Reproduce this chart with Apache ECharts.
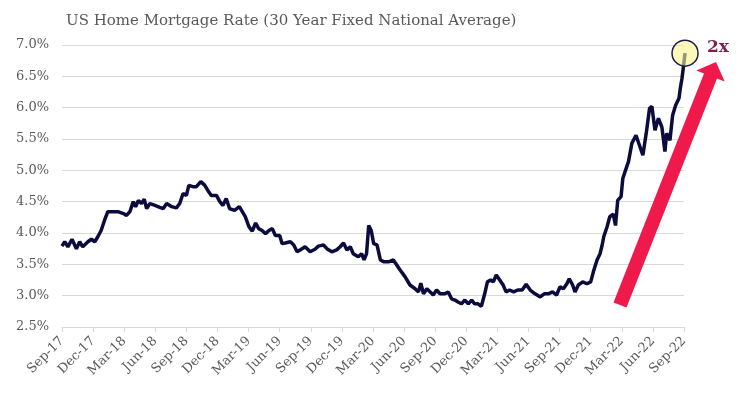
<!DOCTYPE html>
<html>
<head>
<meta charset="utf-8">
<title>US Home Mortgage Rate</title>
<script src="https://cdn.jsdelivr.net/npm/echarts@6/dist/echarts.min.js"></script>
<style>
  html, body { margin: 0; padding: 0; background: #fff; }
  #chart { width: 746px; height: 397px; }
</style>
</head>
<body>
<div id="chart"></div>
<script>
// readings of the 30y fixed rate (approx. weekly)
const rateDates = [
  '2017-09-01','2017-09-09','2017-09-18','2017-09-30','2017-10-13','2017-10-23','2017-11-01','2017-11-16','2017-11-26','2017-12-06',
  '2017-12-15','2017-12-25','2018-01-04','2018-01-14','2018-01-28','2018-02-12','2018-02-27','2018-03-08','2018-03-18','2018-03-28',
  '2018-04-04','2018-04-12','2018-04-21','2018-04-29','2018-05-06','2018-05-16','2018-05-31','2018-06-14','2018-06-24','2018-07-04',
  '2018-07-19','2018-08-02','2018-08-12','2018-08-22','2018-09-01','2018-09-08','2018-09-20','2018-09-30','2018-10-13','2018-10-25',
  '2018-11-03','2018-11-13','2018-11-28','2018-12-08','2018-12-17','2018-12-27','2019-01-06','2019-01-21','2019-02-04','2019-02-14',
  '2019-02-20','2019-03-02','2019-03-12','2019-03-22','2019-03-31','2019-04-10','2019-04-20','2019-04-30','2019-05-10','2019-05-19',
  '2019-06-01','2019-06-08','2019-06-17','2019-07-02','2019-07-12','2019-07-22','2019-07-31','2019-08-15','2019-08-30','2019-09-13',
  '2019-09-23','2019-10-08','2019-10-18','2019-11-02','2019-11-16','2019-11-26','2019-12-06','2019-12-16','2019-12-26','2020-01-04',
  '2020-01-19','2020-01-29','2020-02-05','2020-02-12','2020-02-18','2020-02-25','2020-03-03','2020-03-13','2020-03-23','2020-04-03',
  '2020-04-16','2020-04-30','2020-05-10','2020-05-20','2020-06-04','2020-06-18','2020-07-03','2020-07-13','2020-07-20','2020-07-28',
  '2020-08-07','2020-08-17','2020-08-26','2020-09-05','2020-09-15','2020-09-29','2020-10-09','2020-10-19','2020-10-29','2020-11-07',
  '2020-11-17','2020-11-27','2020-12-07','2020-12-17','2020-12-26','2021-01-05','2021-01-15','2021-01-25','2021-02-02','2021-02-11',
  '2021-02-18','2021-02-26','2021-03-08','2021-03-18','2021-03-27','2021-04-06','2021-04-18','2021-04-30','2021-05-13','2021-05-25',
  '2021-06-06','2021-06-20','2021-07-05','2021-07-17','2021-07-29','2021-08-11','2021-08-23','2021-09-02','2021-09-12','2021-09-22',
  '2021-09-29','2021-10-09','2021-10-16','2021-10-26','2021-11-08','2021-11-20','2021-12-01','2021-12-09','2021-12-20','2021-12-29',
  '2022-01-04','2022-01-09','2022-01-19','2022-01-27','2022-02-06','2022-02-12','2022-02-18','2022-02-27','2022-03-04','2022-03-12',
  '2022-03-21','2022-03-31','2022-04-12','2022-04-22','2022-05-02','2022-05-12','2022-05-22','2022-05-29','2022-06-07','2022-06-17',
  '2022-06-27','2022-07-06','2022-07-11','2022-07-21','2022-07-29','2022-08-07','2022-08-17','2022-08-21','2022-08-26','2022-08-31',
  '2022-09-04'
];
const rateValues = [
  3.79,3.86,3.78,3.90,3.75,3.86,3.78,3.86,3.90,3.86,
  3.94,4.04,4.20,4.34,4.34,4.34,4.31,4.28,4.34,4.50,
  4.42,4.52,4.47,4.54,4.39,4.47,4.44,4.41,4.39,4.47,
  4.42,4.40,4.47,4.63,4.60,4.76,4.74,4.74,4.82,4.76,
  4.68,4.60,4.60,4.50,4.44,4.55,4.39,4.36,4.42,4.32,
  4.26,4.10,4.03,4.16,4.07,4.04,3.99,4.04,4.07,3.96,
  3.96,3.83,3.84,3.86,3.81,3.70,3.73,3.78,3.70,3.74,
  3.79,3.81,3.75,3.70,3.73,3.78,3.84,3.73,3.78,3.67,
  3.62,3.67,3.57,3.67,4.12,4.04,3.83,3.81,3.57,3.54,
  3.54,3.57,3.49,3.41,3.30,3.17,3.11,3.06,3.20,3.03,
  3.11,3.06,3.01,3.09,3.03,3.03,3.06,2.95,2.93,2.90,
  2.87,2.93,2.87,2.93,2.87,2.87,2.83,3.03,3.22,3.25,
  3.22,3.33,3.25,3.17,3.06,3.09,3.06,3.09,3.09,3.18,
  3.09,3.03,2.98,3.03,3.03,3.06,3.01,3.14,3.11,3.19,
  3.27,3.17,3.06,3.17,3.22,3.19,3.22,3.38,3.57,3.67,
  3.80,3.94,4.10,4.26,4.30,4.12,4.52,4.58,4.87,5.00,
  5.14,5.43,5.56,5.40,5.24,5.59,5.99,6.02,5.64,5.83,
  5.69,5.30,5.59,5.48,5.88,6.04,6.15,6.31,6.47,6.68,
  6.87
];
const monthNames = ['Jan','Feb','Mar','Apr','May','Jun','Jul','Aug','Sep','Oct','Nov','Dec'];

// months elapsed since 1 Sep 2017
function monthsSince(dateStr) {
  const [y, m, d] = dateStr.split('-').map(Number);
  const daysInMonth = new Date(y, m, 0).getDate();
  return (y - 2017) * 12 + (m - 9) + (d - 1) / daysInMonth;
}

const seriesData = rateDates.map((d, i) => [monthsSince(d), rateValues[i]]);
const lastPoint = seriesData[seriesData.length - 1];

const font = 'DejaVu Serif';
const grey = '#595959';

const chart = echarts.init(document.getElementById('chart'));
chart.setOption({
  animation: false,
  title: {
    text: 'US Home Mortgage Rate (30 Year Fixed National Average)',
    left: 66,
    top: 14,
    padding: 0,
    textStyle: { fontFamily: font, fontSize: 15, fontWeight: 'normal', color: grey }
  },
  grid: { left: 62, right: 62, top: 45, bottom: 70 },
  xAxis: {
    type: 'value',
    min: 0,
    max: 60,
    interval: 3,
    axisLine: { lineStyle: { color: '#d9d9d9' } },
    axisTick: { show: true, length: 5, lineStyle: { color: '#d9d9d9' } },
    splitLine: { show: false },
    axisLabel: {
      rotate: 45,
      margin: 12,
      fontFamily: font,
      fontSize: 13,
      color: grey,
      formatter: function (v) {
        const k = 8 + Math.round(v);
        return monthNames[k % 12] + '-' + (17 + Math.floor(k / 12));
      }
    }
  },
  yAxis: {
    type: 'value',
    min: 2.5,
    max: 7,
    interval: 0.5,
    axisLine: { show: false },
    axisTick: { show: false },
    splitLine: { lineStyle: { color: '#d9d9d9' } },
    axisLabel: {
      margin: 13,
      fontFamily: font,
      fontSize: 13,
      color: grey,
      formatter: v => v.toFixed(1) + '%'
    }
  },
  series: [
    {
      name: '30Y Fixed',
      type: 'line',
      data: seriesData,
      clip: false,
      showSymbol: false,
      lineStyle: { color: '#0b0b3d', width: 3.5 },
      z: 2
    },
    {
      // highlight circle on the latest reading
      name: 'latest',
      type: 'scatter',
      data: [lastPoint],
      clip: false,
      symbol: 'circle',
      symbolSize: 26,
      z: 3,
      itemStyle: { color: 'rgba(250,244,140,0.6)', borderColor: '#1c1c4f', borderWidth: 1.5, opacity: 1 }
    }
  ],
  graphic: [
    {
      type: 'polygon',
      z: 100,
      shape: {
        points: [[613.5, 302.4], [704, 73.4], [696.3, 70.4], [716, 62], [724.7, 81.6], [717, 78.6], [626.5, 307.6]]
      },
      style: { fill: '#ef1a4b' }
    },
    {
      type: 'text',
      z: 100,
      left: 707,
      top: 39,
      style: { text: '2x', font: 'bold 17px "DejaVu Serif"', fill: '#7b1f4f' }
    }
  ]
});
</script>
</body>
</html>
